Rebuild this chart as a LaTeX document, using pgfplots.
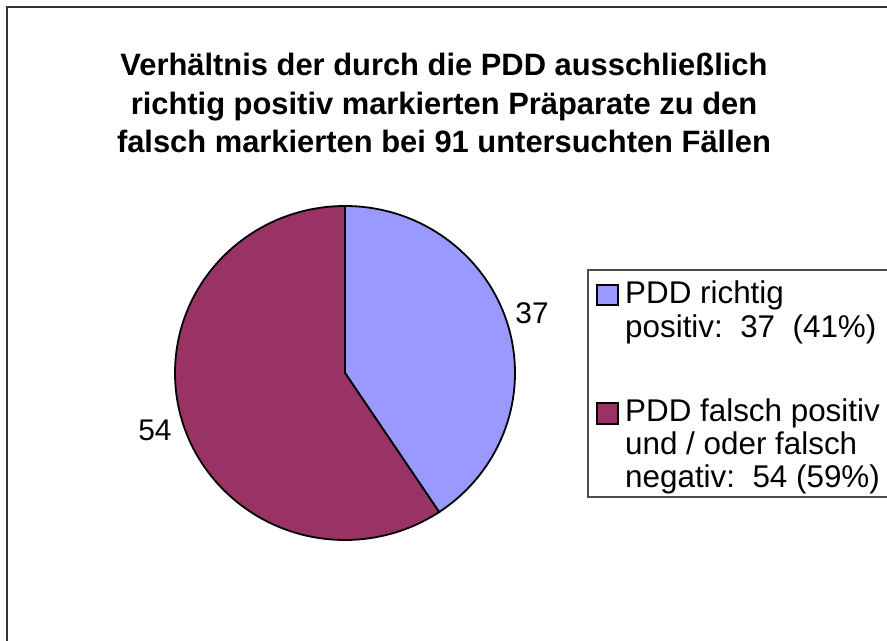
\documentclass[border=0pt]{standalone}
\usepackage{pgfplots}
\usepackage{pgfplotstable}
\usepackage{fontspec}
\setmainfont{Liberation Sans}
\pgfplotsset{compat=1.18}

\definecolor{pieblue}{RGB}{153,153,255}
\definecolor{piered}{RGB}{153,51,102}

% Fälle je Gruppe
\pgfplotstableread{
gruppe n
richtig 37
falsch 54
}\pdddata

\begin{document}
\begin{tikzpicture}
\pgfplotstablegetelem{0}{n}\of\pdddata \let\na\pgfplotsretval
\pgfplotstablegetelem{1}{n}\of\pdddata \let\nb\pgfplotsretval
\pgfmathsetmacro{\total}{\na+\nb}
\pgfmathsetmacro{\aend}{90-\na/\total*360}
\pgfmathsetmacro{\bend}{90+\nb/\total*360}
\begin{axis}[
    at={(0,0)}, anchor=south west,
    scale only axis,
    width=887bp, height=641bp,
    xmin=0, xmax=887, ymin=0, ymax=641,
    hide axis, clip=false,
]
% Rahmen
\draw[black!80, line width=2bp] (axis cs:7,-20) -- (axis cs:7,634) -- (axis cs:910,634);
% Titel
\node[align=center, font=\bfseries\fontsize{31}{39}\selectfont] at (axis cs:444,538)
  {Verhältnis der durch die PDD ausschließlich\\richtig positiv markierten Präparate zu den\\falsch markierten bei 91 untersuchten Fällen};
% Kreis
\filldraw[fill=pieblue, draw=black, line width=1.8bp]
  (axis cs:345,268) -- ++(0,167bp) arc[start angle=90, end angle=\aend, x radius=170bp, y radius=167bp] -- cycle;
\filldraw[fill=piered, draw=black, line width=1.8bp]
  (axis cs:345,268) -- ++(0,167bp) arc[start angle=90, end angle=\bend, x radius=170bp, y radius=167bp] -- cycle;
\node[font=\fontsize{30}{33}\selectfont] at (axis cs:532,328) {\na};
\node[font=\fontsize{30}{33}\selectfont] at (axis cs:155,211) {\nb};
% Legende
\draw[black!70, line width=1.3bp] (axis cs:910,371) -- (axis cs:588,371) -- (axis cs:588,144) -- (axis cs:910,144);
\filldraw[fill=pieblue, draw=black, line width=1.3bp] (axis cs:597,356) rectangle (axis cs:618,336);
\filldraw[fill=piered, draw=black, line width=1.3bp] (axis cs:597,238) rectangle (axis cs:618,217);
\begin{scope}[every node/.style={anchor=base west, inner sep=0pt, font=\fontsize{31.5}{33}\selectfont}]
\node at (axis cs:625,337) {PDD richtig};
\node at (axis cs:625,303) {positiv:\ \ 37\ \ (41\%)};
\node at (axis cs:625,219) {PDD falsch positiv};
\node at (axis cs:625,186) {und / oder falsch};
\node at (axis cs:625,153) {negativ:\ \ 54 (59\%)};
\end{scope}
\end{axis}
\pgfresetboundingbox
\useasboundingbox (0,0) rectangle (887bp,641bp);
\end{tikzpicture}
\end{document}
